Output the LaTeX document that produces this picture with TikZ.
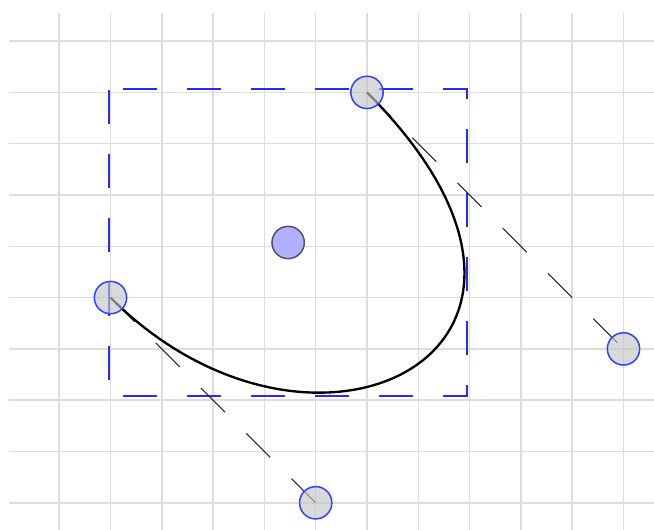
\documentclass[tikz,border=0pt]{standalone}
\usetikzlibrary{calc}
\definecolor{gridgray}{HTML}{DDDDDD}
\definecolor{boxblue}{HTML}{2B2BF0}
\definecolor{handleblue}{HTML}{3344FF}
\definecolor{handlefill}{HTML}{C4C4C4}
\definecolor{centerfill}{HTML}{B0B0FF}
\definecolor{centerline}{HTML}{555560}
\tikzset{
  gridline/.style={draw=gridgray, line width=0.8pt},
  bboxline/.style={draw=boxblue, line width=1.1pt, dash pattern=on 18.86pt off 16.64pt, dash phase=27.7pt},
  ctrlline/.style={draw=black!85, line width=0.6pt, dash pattern=on 18.86pt off 16.64pt},
  curveline/.style={draw=black, line width=1.3pt},
  handle/.style={circle, draw=handleblue, line width=0.85pt, fill=handlefill, fill opacity=0.65, minimum size=0.63cm, inner sep=0pt},
  centerdot/.style={circle, draw=centerline, line width=0.85pt, fill=centerfill, minimum size=0.63cm, inner sep=0pt}
}
\begin{document}
\begin{tikzpicture}[x=1cm,y=1cm]
\useasboundingbox (-2.154,-4.530) rectangle (10.595,5.801);
% grid
\foreach \i in {-1,...,10} {\draw[gridline] (\i,-4.53) -- (\i,5.548);}
\foreach \j in {-4,...,5} {\draw[gridline] (-1.98,\j) -- (10.595,\j);}
% points
\coordinate (P0) at (0,0);
\coordinate (P1) at (4,-4);
\coordinate (P2) at (10,-1);
\coordinate (P3) at (5,4);
\coordinate (TL) at (-0.023,4.072);
\coordinate (TR) at (6.943,4.072);
\coordinate (BR) at (6.943,-1.924);
\coordinate (BL) at (-0.023,-1.924);
% bounding box
\draw[bboxline] (TL) -- (TR) -- (BR) -- (BL) -- cycle;
% control lines
\draw[ctrlline] (P0) -- (P1);
\draw[ctrlline] (P3) -- (P2);
% curve
\draw[curveline] (P0) .. controls (P1) and (P2) .. (P3);
% handles
\node[handle] (h0) at (P0) {};
\node[handle] (h1) at (P1) {};
\node[handle] (h2) at (P2) {};
\node[handle] (h3) at (P3) {};
\node[centerdot] (c) at (3.463,1.074) {};
\end{tikzpicture}
\end{document}
